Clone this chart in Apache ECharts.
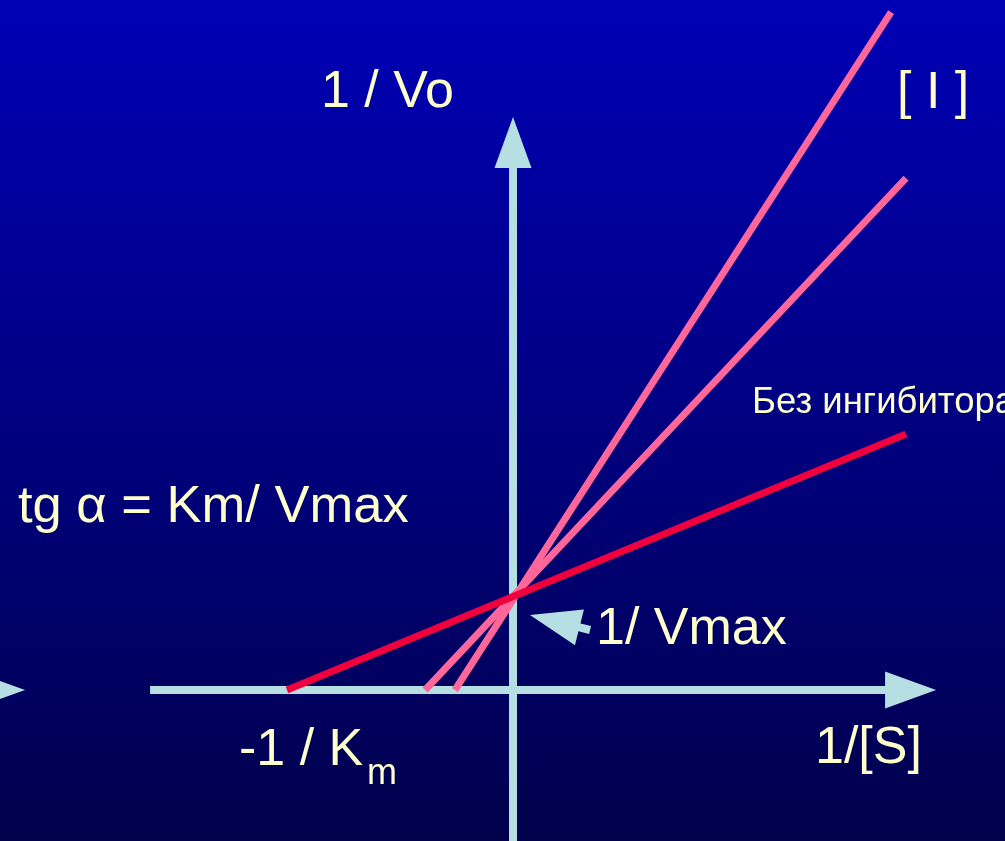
<!DOCTYPE html>
<html>
<head>
<meta charset="utf-8">
<script src="https://cdn.jsdelivr.net/npm/echarts@6/dist/echarts.min.js"></script>
<style>
  html, body { margin: 0; padding: 0; }
  #chart { width: 1005px; height: 841px; }
</style>
</head>
<body>
<div id="chart"></div>
<script>
// Lineweaver-Burk plot, units: 1/Vmax = 1, 1/Km = 1
var noInhibitorLine = [[-1, 0], [1.739, 2.753]];
var inhibitorLineA = [[-0.257, 0], [1.673, 7.29]];
var inhibitorLineB = [[-0.389, 0], [1.739, 5.505]];

// arrows: [x0, y0, x1, y1] tail -> tip
var axisArrows = [
    [-1.606, 0, 1.872, 0],   // 1/[S]
    [0, -1.8, 0, 6.161],     // 1/Vo
    [-2.45, 0, -2.159, 0]    // partial arrow on the left edge
];
var vmaxPointer = [[0.341, 0.645, 0.075, 0.806]];

var axisColor = '#b5dfe3';
var textColor = '#ffffcc';
var font = 'Liberation Sans, Arial, sans-serif';

var chart = echarts.init(document.getElementById('chart'));

function renderArrow(stemWidth) {
    return function (params, api) {
        var p0 = api.coord([api.value(0), api.value(1)]);
        var p1 = api.coord([api.value(2), api.value(3)]);
        var dx = p1[0] - p0[0], dy = p1[1] - p0[1];
        var len = Math.sqrt(dx * dx + dy * dy);
        var ux = dx / len, uy = dy / len;
        var nx = -uy, ny = ux;
        var headLen = 51, halfW = 18.5;
        var bx = p1[0] - ux * headLen, by = p1[1] - uy * headLen;
        return {
            type: 'group',
            children: [{
                type: 'line',
                shape: { x1: p0[0], y1: p0[1], x2: bx + ux, y2: by + uy },
                style: { stroke: axisColor, lineWidth: stemWidth }
            }, {
                type: 'polygon',
                shape: { points: [p1, [bx + nx * halfW, by + ny * halfW], [bx - nx * halfW, by - ny * halfW]] },
                style: { fill: axisColor }
            }]
        };
    };
}

function plainLine(data, color, z) {
    return {
        type: 'line',
        data: data,
        showSymbol: false,
        silent: true,
        z: z,
        lineStyle: { color: color, width: 7 }
    };
}

function label(text, x, y, size) {
    return {
        type: 'text',
        x: x,
        y: y,
        silent: true,
        style: {
            text: text,
            font: size + 'px ' + font,
            fill: textColor,
            textVerticalAlign: 'middle'
        }
    };
}

var option = {
    backgroundColor: {
        type: 'linear', x: 0, y: 0, x2: 0, y2: 1,
        colorStops: [{ offset: 0, color: '#0000b6' }, { offset: 1, color: '#00004c' }]
    },
    animation: false,
    grid: { left: 0, right: 0, top: 0, bottom: 0 },
    xAxis: { type: 'value', min: -2.27, max: 2.177, show: false },
    yAxis: { type: 'value', min: -1.624, max: 7.42, show: false },
    series: [
        { type: 'custom', data: axisArrows, renderItem: renderArrow(8), silent: true, z: 1 },
        plainLine(noInhibitorLine, '#f0003c', 3),
        plainLine(inhibitorLineA, '#ff6699', 2),
        plainLine(inhibitorLineB, '#ff6699', 2),
        { type: 'custom', data: vmaxPointer, renderItem: renderArrow(8), silent: true, z: 4 }
    ],
    graphic: [
        label('1 / Vo', 321, 93, 52),
        label('[ I ]', 897, 94, 52),
        label('Без ингибитора', 752, 403, 36.5),
        label('tg α = Km/ Vmax', 18, 508, 52.5),
        label('1/ Vmax', 596, 630, 52),
        label('-1 / K', 239, 751, 52),
        label('m', 367, 774, 36),
        label('1/[S]', 815, 749, 52)
    ]
};

chart.setOption(option);
</script>
</body>
</html>
